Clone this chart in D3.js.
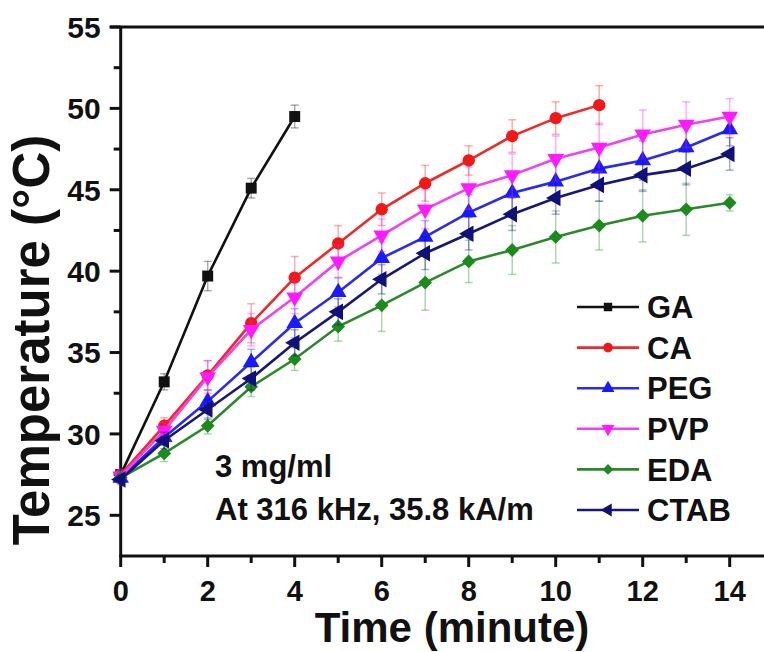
<!DOCTYPE html>
<html>
<head>
<meta charset="utf-8">
<script src="https://cdn.jsdelivr.net/npm/d3@7"></script>
<style>
  body { margin: 0; background: #fff; }
  text { font-family: "Liberation Sans", Arial, sans-serif; font-weight: bold; fill: #111; }
</style>
</head>
<body>
<script>
// time points in minutes
var minutes = [0, 1, 2, 3, 4, 5, 6, 7, 8, 9, 10, 11, 12, 13, 14];

// series labels
var seriesNames = ["GA", "CA", "PEG", "PVP", "EDA", "CTAB"];

// temperatures (deg C)
var gaTemp   = [27.5, 33.2, 39.7, 45.1, 49.5];
var caTemp   = [27.5, 30.5, 33.6, 36.8, 39.6, 41.7, 43.8, 45.4, 46.8, 48.3, 49.4, 50.2];
var pegTemp  = [27.3, 29.8, 32.0, 34.4, 36.8, 38.7, 40.8, 42.1, 43.6, 44.8, 45.5, 46.3, 46.8, 47.6, 48.7];
var pvpTemp  = [27.4, 30.2, 33.5, 36.4, 38.4, 40.6, 42.2, 43.8, 45.1, 45.9, 46.9, 47.6, 48.4, 49.0, 49.5];
var edaTemp  = [27.3, 28.8, 30.5, 32.9, 34.6, 36.6, 37.9, 39.3, 40.6, 41.3, 42.1, 42.8, 43.4, 43.8, 44.2];
var ctabTemp = [27.2, 29.6, 31.5, 33.4, 35.6, 37.5, 39.5, 41.1, 42.3, 43.5, 44.5, 45.3, 45.9, 46.3, 47.2];

// error bar half heights (deg C)
var gaErr   = [0.3, 0.5, 0.9, 0.6, 0.7];
var caErr   = [0.3, 0.5, 0.9, 1.2, 1.3, 1.1, 1.0, 1.1, 0.9, 1.0, 1.0, 1.2];
var pegErr  = [0.3, 0.5, 0.7, 0.8, 0.9, 0.9, 1.0, 1.0, 1.1, 1.1, 1.2, 1.2, 1.2, 1.2, 1.0];
var pvpErr  = [0.3, 0.5, 1.0, 1.0, 1.0, 1.0, 1.0, 1.2, 1.3, 1.3, 1.4, 1.5, 1.5, 1.4, 1.1];
var edaErr  = [0.3, 0.5, 0.5, 0.6, 0.7, 0.9, 1.6, 1.7, 1.3, 1.5, 1.6, 1.5, 1.6, 1.6, 0.5];
var ctabErr = [0.3, 0.5, 0.6, 0.7, 0.8, 0.8, 0.9, 1.0, 1.0, 1.0, 1.0, 1.0, 1.0, 1.0, 1.0];

var yMajorTicks = [25, 30, 35, 40, 45, 50, 55];
var yMinorTicks = [27.5, 32.5, 37.5, 42.5, 47.5, 52.5];
var xMajorTicks = [0, 2, 4, 6, 8, 10, 12, 14];
var xMinorTicks = [1, 3, 5, 7, 9, 11, 13];

var colors = ["#111111", "#f01818", "#1a1aff", "#ff1aff", "#1c8a1c", "#10107a"];
var lineColors = ["#111111", "#f02828", "#2a2af0", "#f040f0", "#2a8a2a", "#18187a"];
var shapes = ["square", "circle", "up", "down", "diamond", "left"];

var temps = [gaTemp, caTemp, pegTemp, pvpTemp, edaTemp, ctabTemp];
var errs = [gaErr, caErr, pegErr, pvpErr, edaErr, ctabErr];

var series = seriesNames.map(function(name, i) {
  return {
    name: name,
    color: colors[i],
    lineColor: lineColors[i],
    shape: shapes[i],
    values: temps[i].map(function(v, j) { return { t: minutes[j], v: v, e: errs[i][j] }; })
  };
});

var svgWidth = 764;
var svgHeight = 652;

var svg = d3.select("body")
  .append("svg")
  .attr("width", svgWidth)
  .attr("height", svgHeight);

var xScale = d3.scaleLinear().domain([0, 14.8]).range([120.7, 764.5]);
var yScale = d3.scaleLinear().domain([22.5, 55]).range([556, 27]);

// symbol helper
function symbolPath(shape, size) {
  var type = d3.symbolTriangle;
  if (shape === "square") type = d3.symbolSquare;
  if (shape === "circle") type = d3.symbolCircle;
  if (shape === "diamond") type = d3.symbolSquare;
  return d3.symbol().type(type).size(size)();
}
function symbolRotate(shape) {
  if (shape === "down") return 180;
  if (shape === "left") return -90;
  if (shape === "diamond") return 45;
  return 0;
}
var markerSize = { square: 120, circle: 120, up: 120, down: 120, diamond: 95, left: 120 };

// axes frame
var axisG = svg.append("g");

axisG.append("line")
  .attr("x1", xScale(0)).attr("x2", xScale(0))
  .attr("y1", yScale(55)).attr("y2", yScale(22.5))
  .attr("stroke", "#111").attr("stroke-width", 3);

axisG.append("line")
  .attr("x1", xScale(0) - 11).attr("x2", svgWidth)
  .attr("y1", yScale(55)).attr("y2", yScale(55))
  .attr("stroke", "#111").attr("stroke-width", 3);

axisG.append("line")
  .attr("x1", xScale(0) - 1.5).attr("x2", svgWidth)
  .attr("y1", yScale(22.5)).attr("y2", yScale(22.5))
  .attr("stroke", "#111").attr("stroke-width", 3);

// y ticks
axisG.selectAll(".ymaj")
  .data(yMajorTicks)
  .enter()
  .append("line")
  .attr("x1", xScale(0) - 11).attr("x2", xScale(0))
  .attr("y1", d => yScale(d)).attr("y2", d => yScale(d))
  .attr("stroke", "#111").attr("stroke-width", 3);

axisG.selectAll(".ymin")
  .data(yMinorTicks)
  .enter()
  .append("line")
  .attr("x1", xScale(0) - 7).attr("x2", xScale(0))
  .attr("y1", d => yScale(d)).attr("y2", d => yScale(d))
  .attr("stroke", "#111").attr("stroke-width", 3);

axisG.selectAll(".ylab")
  .data(yMajorTicks)
  .enter()
  .append("text")
  .attr("x", xScale(0) - 20)
  .attr("y", d => yScale(d))
  .attr("dy", "0.36em")
  .attr("text-anchor", "end")
  .style("font-size", "30px")
  .text(d => d);

// x ticks
axisG.selectAll(".xmaj")
  .data(xMajorTicks)
  .enter()
  .append("line")
  .attr("x1", d => xScale(d)).attr("x2", d => xScale(d))
  .attr("y1", yScale(22.5)).attr("y2", yScale(22.5) + 11)
  .attr("stroke", "#111").attr("stroke-width", 3);

axisG.selectAll(".xmin")
  .data(xMinorTicks)
  .enter()
  .append("line")
  .attr("x1", d => xScale(d)).attr("x2", d => xScale(d))
  .attr("y1", yScale(22.5)).attr("y2", yScale(22.5) + 7)
  .attr("stroke", "#111").attr("stroke-width", 3);

axisG.selectAll(".xlab")
  .data(xMajorTicks)
  .enter()
  .append("text")
  .attr("x", d => xScale(d))
  .attr("y", 601)
  .attr("text-anchor", "middle")
  .style("font-size", "29px")
  .text(d => d);

// axis titles
svg.append("text")
  .attr("x", 452)
  .attr("y", 642)
  .attr("text-anchor", "middle")
  .style("font-size", "42px")
  .text("Time (minute)");

svg.append("text")
  .attr("transform", "translate(49, 340) rotate(-90)")
  .attr("text-anchor", "middle")
  .style("font-size", "51px")
  .text("Temperature (°C)");

// data
var plotG = svg.append("g");

var line = d3.line()
  .x(d => xScale(d.t))
  .y(d => yScale(d.v));

series.forEach(function(s) {
  var g = plotG.append("g");

  // error bars
  var eb = g.selectAll(".err")
    .data(s.values)
    .enter()
    .append("g")
    .attr("stroke", s.color)
    .attr("stroke-opacity", 0.35)
    .attr("stroke-width", 1.5);
  eb.append("line")
    .attr("x1", d => xScale(d.t)).attr("x2", d => xScale(d.t))
    .attr("y1", d => yScale(d.v - d.e)).attr("y2", d => yScale(d.v + d.e));
  eb.append("line")
    .attr("x1", d => xScale(d.t) - 4).attr("x2", d => xScale(d.t) + 4)
    .attr("y1", d => yScale(d.v + d.e)).attr("y2", d => yScale(d.v + d.e));
  eb.append("line")
    .attr("x1", d => xScale(d.t) - 4).attr("x2", d => xScale(d.t) + 4)
    .attr("y1", d => yScale(d.v - d.e)).attr("y2", d => yScale(d.v - d.e));

  g.append("path")
    .datum(s.values)
    .attr("d", line)
    .attr("fill", "none")
    .attr("stroke", s.lineColor)
    .attr("stroke-width", 2.6);

  g.selectAll(".mark")
    .data(s.values)
    .enter()
    .append("path")
    .attr("d", symbolPath(s.shape, markerSize[s.shape]))
    .attr("transform", d => `translate(${xScale(d.t)},${yScale(d.v)}) rotate(${symbolRotate(s.shape)})`)
    .attr("fill", s.color);
});

// annotation
svg.append("text")
  .attr("x", 215)
  .attr("y", 477)
  .style("font-size", "31px")
  .text("3 mg/ml");

svg.append("text")
  .attr("x", 215)
  .attr("y", 520)
  .style("font-size", "31px")
  .text("At 316 kHz, 35.8 kA/m");

// legend
var legend = svg.append("g");
var legendY = d3.scalePoint().domain(seriesNames).range([307, 510]);

var rows = legend.selectAll(".row")
  .data(series)
  .enter()
  .append("g")
  .attr("transform", d => `translate(0, ${legendY(d.name)})`);

rows.append("line")
  .attr("x1", 577).attr("x2", 639)
  .attr("y1", 0).attr("y2", 0)
  .attr("stroke", d => d.lineColor)
  .attr("stroke-width", 2.6);

rows.append("path")
  .attr("d", d => symbolPath(d.shape, markerSize[d.shape] * 0.6))
  .attr("transform", d => `translate(608,0) rotate(${symbolRotate(d.shape)})`)
  .attr("fill", d => d.color);

rows.append("text")
  .attr("x", 647)
  .attr("y", 0)
  .attr("dy", "0.36em")
  .style("font-size", "31px")
  .text(d => d.name);
</script>
</body>
</html>
